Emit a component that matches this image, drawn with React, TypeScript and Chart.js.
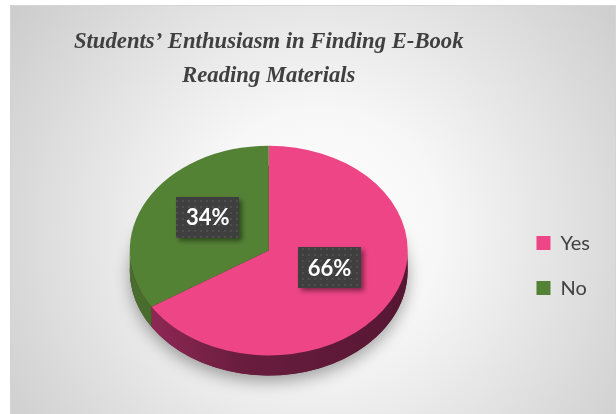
import React, { useEffect, useRef } from "react";
import { Chart, registerables } from "chart.js";

Chart.register(...registerables);

// ---- data ----
const categories = ["Yes", "No"];
const shares = [66, 34];
const sliceColors = ["#EE4586", "#548235"];
const sideColors = [
  ["#962A5A", "#6A1D3E", "#561733"],
  ["#4A6E2D", "#3D5E25", "#34501F"],
];
const titleLines = ["Students\u2019 Enthusiasm in Finding E-Book", "Reading Materials"];

// ---- view style ----
const TILT = 0.755;
const LIFT = 15;
const DEPTH = 20;
const LABEL_RISE = 8;
const TITLE_FAMILY = "'Liberation Serif', 'Times New Roman', serif";

function makePattern(ctx: CanvasRenderingContext2D) {
  const c = document.createElement("canvas");
  c.width = 6;
  c.height = 6;
  const p = c.getContext("2d")!;
  p.fillStyle = "#3f3f3f";
  p.fillRect(0, 0, 6, 6);
  p.fillStyle = "#575757";
  p.beginPath();
  p.arc(3, 3, 0.9, 0, Math.PI * 2);
  p.fill();
  return ctx.createPattern(c, "repeat");
}

const pie3d = {
  id: "pie3d",
  beforeDraw(chart: any) {
    const ctx: CanvasRenderingContext2D = chart.ctx;
    const W = chart.width;
    const H = chart.height;
    ctx.save();
    ctx.fillStyle = "#ffffff";
    ctx.fillRect(0, 0, W, H);
    const g = ctx.createRadialGradient(320, 230, 0, 320, 230, 400);
    g.addColorStop(0, "#ffffff");
    g.addColorStop(0.3, "#f7f7f7");
    g.addColorStop(1, "#c9c9c9");
    ctx.fillStyle = g;
    ctx.fillRect(11, 6, W - 12, H);
    ctx.strokeStyle = "#d4d4d4";
    ctx.lineWidth = 1;
    ctx.strokeRect(10.5, 5.5, W - 11, H + 5);
    ctx.restore();
  },
  beforeDatasetsDraw(chart: any) {
    const ctx: CanvasRenderingContext2D = chart.ctx;
    const meta = chart.getDatasetMeta(0);
    if (!meta.data.length) return;
    const { x, y, outerRadius: R } = meta.data[0].getProps(["x", "y", "outerRadius"], true);
    const ty = y - LIFT;
    ctx.save();
    ctx.shadowColor = "rgba(0,0,0,0.35)";
    ctx.shadowBlur = 16;
    ctx.shadowOffsetY = 6;
    ctx.fillStyle = "#5a2038";
    ctx.beginPath();
    ctx.ellipse(x, ty + DEPTH, R, R * TILT, 0, 0, Math.PI * 2);
    ctx.fill();
    ctx.restore();
    meta.data.forEach((arc: any, i: number) => {
      const p = arc.getProps(["startAngle", "endAngle"], true);
      const a = Math.max(p.startAngle, 0);
      const b = Math.min(p.endAngle, Math.PI);
      if (b <= a) return;
      const g = ctx.createLinearGradient(x - R, 0, x + R, 0);
      const cols = sideColors[i % sideColors.length];
      g.addColorStop(0, cols[0]);
      g.addColorStop(0.4, cols[1]);
      g.addColorStop(1, cols[2]);
      ctx.save();
      ctx.fillStyle = g;
      ctx.beginPath();
      ctx.ellipse(x, ty, R, R * TILT, 0, a, b);
      ctx.ellipse(x, ty + DEPTH, R, R * TILT, 0, b, a, true);
      ctx.closePath();
      ctx.fill();
      ctx.restore();
    });
    ctx.save();
    ctx.translate(0, ty);
    ctx.scale(1, TILT);
    ctx.translate(0, -y);
  },
  afterDatasetsDraw(chart: any) {
    const ctx: CanvasRenderingContext2D = chart.ctx;
    ctx.restore();
    const meta = chart.getDatasetMeta(0);
    const values = chart.data.datasets[0].data as number[];
    const pattern = makePattern(ctx);
    meta.data.forEach((arc: any, i: number) => {
      const p = arc.getProps(["x", "y", "startAngle", "endAngle", "outerRadius"], true);
      const mid = (p.startAngle + p.endAngle) / 2;
      const r = p.outerRadius * 0.5;
      const px = p.x + Math.cos(mid) * r;
      const py = p.y - LIFT + Math.sin(mid) * r * TILT - LABEL_RISE;
      const text = `${values[i]}%`;
      const bw = 63;
      const bh = 41;
      ctx.save();
      ctx.shadowColor = "rgba(0,0,0,0.45)";
      ctx.shadowBlur = 5;
      ctx.shadowOffsetX = 3;
      ctx.shadowOffsetY = 3;
      ctx.fillStyle = pattern || "#404040";
      ctx.fillRect(Math.round(px - bw / 2), Math.round(py - bh / 2), bw, bh);
      ctx.restore();
      ctx.save();
      ctx.fillStyle = "#ffffff";
      ctx.font = "bold 22px Lato, 'Open Sans', sans-serif";
      ctx.textAlign = "center";
      ctx.textBaseline = "middle";
      ctx.fillText(text, px, py + 1);
      ctx.restore();
    });
  },
};

export default function App() {
  const ref = useRef<HTMLCanvasElement>(null);
  useEffect(() => {
    if (!ref.current) return;
    const chart = new Chart(ref.current, {
      type: "pie",
      data: {
        labels: categories,
        datasets: [
          {
            data: shares,
            backgroundColor: sliceColors,
            borderWidth: 0,
            hoverOffset: 0,
          },
        ],
      },
      options: {
        responsive: false,
        animation: false,
        events: [],
        layout: { padding: { top: 6, left: 26, right: 16, bottom: 9.5 } },
        plugins: {
          title: {
            display: true,
            text: titleLines,
            fullSize: false,
            color: "#404040",
            font: {
              family: TITLE_FAMILY,
              size: 22.7,
              style: "italic",
              weight: "bold",
              lineHeight: 1.5,
            },
            padding: { top: 19.3, bottom: 33.2 },
          },
          legend: {
            position: "right",
            fullSize: false,
            labels: {
              boxWidth: 14,
              boxHeight: 14,
              padding: 25,
              color: "#404040",
              font: { family: "Lato, 'Open Sans', sans-serif", size: 20 },
            },
          },
          tooltip: { enabled: false },
        },
      },
      plugins: [pie3d],
    });
    let alive = true;
    const fonts = (document as any).fonts;
    if (fonts && fonts.ready) {
      fonts.ready.then(() => {
        if (alive) chart.update();
      });
    }
    return () => {
      alive = false;
      chart.destroy();
    };
  }, []);
  return (
    <div style={{ position: "fixed", left: 0, top: 0, width: 616, height: 414 }}>
      <canvas ref={ref} width={616} height={414} style={{ display: "block" }} />
    </div>
  );
}
